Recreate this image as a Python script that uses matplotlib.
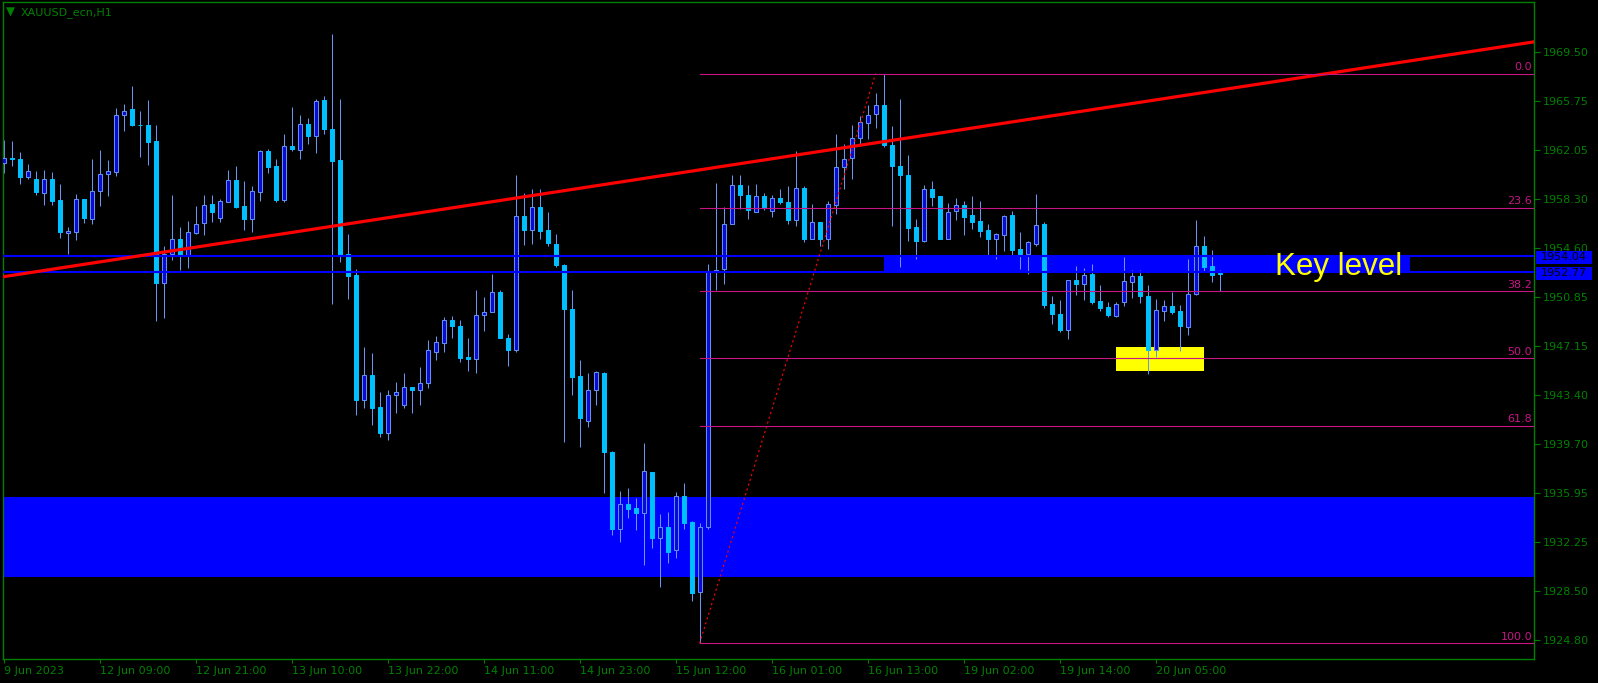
import numpy as np
import matplotlib.pyplot as plt
from matplotlib.patches import Rectangle
import matplotlib.transforms as mtransforms

# --- dati (XAUUSD H1) ---
opens = [1961.11, 1961.46, 1961.42, 1960.02, 1959.85, 1958.80, 1959.85, 1958.25, 1955.76, 1955.84,
         1958.38, 1956.83, 1958.96, 1960.28, 1960.40, 1964.76, 1965.17, 1964.00, 1963.95, 1962.73,
         1951.96, 1954.15, 1955.34, 1954.07, 1955.76, 1956.52, 1958.00, 1956.90, 1958.12, 1959.82,
         1957.79, 1956.81, 1958.88, 1961.97, 1960.83, 1958.25, 1962.35, 1962.10, 1964.08, 1963.14,
         1965.85, 1963.70, 1961.29, 1954.15, 1952.55, 1943.05, 1944.95, 1942.50, 1940.52, 1943.48,
         1942.72, 1944.02, 1943.86, 1944.32, 1946.75, 1947.40, 1949.18, 1948.67, 1946.32, 1946.19,
         1949.56, 1949.76, 1951.24, 1947.74, 1946.85, 1957.06, 1955.97, 1957.74, 1955.97, 1954.96,
         1953.36, 1950.02, 1944.87, 1941.48, 1943.86, 1945.08, 1939.08, 1933.22, 1935.12, 1934.82,
         1934.44, 1937.60, 1932.54, 1933.38, 1931.65, 1935.75, 1933.76, 1928.48, 1933.38, 1952.80,
         1953.06, 1956.48, 1959.44, 1958.68, 1957.39, 1958.61, 1957.44, 1958.46, 1958.15, 1956.73,
         1959.22, 1955.29, 1956.56, 1955.29, 1957.87, 1960.78, 1961.49, 1962.99, 1964.16, 1964.84,
         1965.52, 1962.48, 1960.86, 1960.20, 1956.18, 1955.16, 1959.14, 1958.58, 1955.29, 1957.44,
         1957.92, 1957.11, 1956.65, 1955.97, 1955.34, 1955.64, 1957.11, 1954.58, 1954.15, 1954.91,
         1956.43, 1950.35, 1949.64, 1948.37, 1952.17, 1951.87, 1952.63, 1950.57, 1950.14, 1949.46,
         1950.52, 1952.04, 1952.47, 1950.95, 1946.90, 1949.84, 1950.19, 1949.81, 1948.62, 1951.16,
         1954.75, 1953.23, 1952.70]
highs = [1962.81, 1962.73, 1961.90, 1961.04, 1960.45, 1960.53, 1960.38, 1959.47, 1956.20, 1958.71,
         1958.38, 1961.37, 1962.05, 1961.34, 1965.30, 1965.55, 1966.91, 1965.01, 1965.85, 1963.95,
         1954.75, 1958.63, 1956.22, 1956.65, 1957.79, 1958.63, 1958.63, 1958.38, 1960.53, 1960.83,
         1959.69, 1959.31, 1962.05, 1962.13, 1961.42, 1963.32, 1965.34, 1964.71, 1964.54, 1965.98,
         1966.15, 1970.87, 1965.93, 1955.72, 1953.06, 1947.10, 1946.60, 1943.64, 1943.81, 1944.40,
         1945.08, 1944.02, 1945.54, 1947.61, 1947.91, 1949.38, 1949.43, 1949.13, 1947.74, 1951.46,
         1950.88, 1952.68, 1951.41, 1948.07, 1960.15, 1958.84, 1959.14, 1959.14, 1957.32, 1955.72,
         1953.44, 1951.46, 1946.09, 1945.08, 1945.25, 1945.20, 1939.17, 1936.16, 1936.34, 1935.58,
         1939.76, 1937.60, 1934.36, 1934.52, 1936.08, 1936.72, 1933.85, 1933.68, 1953.44, 1959.60,
         1957.70, 1960.15, 1960.20, 1959.39, 1959.52, 1958.84, 1958.63, 1959.14, 1959.31, 1961.97,
         1959.31, 1958.00, 1956.56, 1958.17, 1963.32, 1962.56, 1963.95, 1964.66, 1965.47, 1966.44,
         1967.88, 1963.87, 1965.98, 1961.67, 1956.81, 1959.44, 1959.69, 1958.58, 1958.08, 1958.40,
         1958.17, 1958.55, 1958.17, 1956.43, 1955.76, 1957.11, 1957.44, 1955.82, 1955.13, 1958.71,
         1956.56, 1950.95, 1950.65, 1952.17, 1953.23, 1953.10, 1953.39, 1951.79, 1950.52, 1950.52,
         1953.90, 1952.93, 1952.93, 1951.79, 1950.78, 1950.65, 1951.28, 1950.27, 1953.77, 1956.73,
         1955.51, 1954.45, 1952.93]
lows = [1960.32, 1960.83, 1959.47, 1959.90, 1958.63, 1957.87, 1957.87, 1955.38, 1954.15, 1955.21,
        1956.52, 1956.43, 1957.79, 1958.55, 1960.10, 1963.49, 1963.87, 1961.52, 1960.91, 1949.08,
        1949.28, 1953.69, 1952.93, 1953.10, 1955.67, 1955.59, 1956.60, 1956.60, 1958.12, 1957.66,
        1955.97, 1955.84, 1958.20, 1960.32, 1958.12, 1958.12, 1962.00, 1961.37, 1962.51, 1961.85,
        1963.32, 1950.35, 1953.56, 1950.73, 1941.91, 1942.42, 1941.15, 1940.26, 1940.01, 1942.04,
        1942.47, 1942.04, 1942.67, 1943.99, 1946.09, 1946.72, 1947.79, 1945.96, 1945.28, 1945.13,
        1948.32, 1949.76, 1947.74, 1945.66, 1946.72, 1954.83, 1954.91, 1955.34, 1954.78, 1953.18,
        1939.88, 1943.43, 1939.50, 1941.02, 1942.67, 1935.98, 1932.79, 1932.28, 1934.11, 1933.17,
        1930.51, 1931.83, 1928.86, 1930.64, 1931.02, 1933.22, 1927.80, 1924.56, 1933.25, 1951.41,
        1951.92, 1956.48, 1957.62, 1956.86, 1957.39, 1957.49, 1956.94, 1957.95, 1956.43, 1956.30,
        1955.08, 1955.29, 1954.78, 1954.53, 1957.19, 1959.09, 1959.85, 1962.56, 1962.89, 1963.78,
        1962.30, 1956.30, 1953.18, 1955.16, 1953.82, 1955.08, 1957.82, 1955.29, 1955.29, 1956.73,
        1955.59, 1956.05, 1955.46, 1954.07, 1953.77, 1954.37, 1954.07, 1953.01, 1952.63, 1954.75,
        1950.06, 1948.83, 1948.24, 1947.69, 1951.03, 1950.65, 1950.40, 1949.81, 1949.38, 1949.38,
        1950.22, 1950.83, 1950.45, 1945.03, 1946.34, 1949.08, 1949.64, 1946.77, 1947.99, 1951.03,
        1952.85, 1952.00, 1951.33]
closes = [1961.49, 1961.39, 1960.02, 1960.45, 1958.88, 1959.90, 1958.20, 1955.84, 1955.95, 1958.38,
          1956.90, 1958.99, 1960.28, 1960.51, 1964.76, 1965.07, 1963.95, 1963.95, 1962.68, 1951.96,
          1954.20, 1955.34, 1954.09, 1955.80, 1956.48, 1957.92, 1957.36, 1958.17, 1959.82, 1957.74,
          1956.81, 1958.93, 1961.97, 1960.78, 1958.25, 1962.35, 1962.15, 1964.08, 1963.14, 1965.77,
          1963.65, 1961.24, 1954.07, 1952.50, 1943.05, 1944.95, 1942.47, 1940.52, 1943.48, 1943.64,
          1944.02, 1943.79, 1944.32, 1946.83, 1947.51, 1949.18, 1948.70, 1946.27, 1946.19, 1949.56,
          1949.79, 1951.24, 1947.74, 1946.85, 1957.06, 1955.97, 1957.74, 1955.89, 1955.01, 1953.36,
          1950.02, 1944.82, 1941.71, 1943.86, 1945.16, 1939.12, 1933.22, 1935.12, 1934.74, 1934.44,
          1937.68, 1932.54, 1933.38, 1931.52, 1935.75, 1933.68, 1928.41, 1933.38, 1952.76, 1952.98,
          1956.48, 1959.44, 1958.68, 1957.49, 1958.61, 1957.74, 1958.46, 1958.12, 1956.73, 1959.22,
          1955.29, 1956.56, 1955.29, 1958.00, 1960.78, 1961.42, 1963.02, 1964.20, 1964.76, 1965.52,
          1962.43, 1960.86, 1960.20, 1956.15, 1955.16, 1959.14, 1958.50, 1955.29, 1957.32, 1957.92,
          1956.98, 1956.60, 1955.92, 1955.29, 1955.67, 1957.03, 1954.45, 1954.15, 1955.04, 1956.40,
          1950.27, 1949.59, 1948.37, 1952.17, 1951.87, 1952.55, 1950.48, 1950.06, 1949.51, 1950.35,
          1952.09, 1952.47, 1950.95, 1946.85, 1949.94, 1950.19, 1949.76, 1948.67, 1951.16, 1954.81,
          1953.18, 1952.60, 1952.65]

x_tick_bars = [0, 12, 24, 36, 48, 60, 72, 84, 96, 108, 120, 132, 144]
x_tick_labels = ["9 Jun 2023", "12 Jun 09:00", "12 Jun 21:00", "13 Jun 10:00", "13 Jun 22:00",
                 "14 Jun 11:00", "14 Jun 23:00", "15 Jun 12:00", "16 Jun 01:00", "16 Jun 13:00",
                 "19 Jun 02:00", "19 Jun 14:00", "20 Jun 05:00"]
y_tick_labels = ["1924.80", "1928.50", "1932.25", "1935.95", "1939.70", "1943.40", "1947.15",
                 "1950.85", "1954.60", "1958.30", "1962.05", "1965.75", "1969.50"]

# oggetti disegnati sul grafico
key_lines = [1954.04, 1952.77]
key_rect_bars = [110, 175.8]
zone_low = [1929.62, 1935.70]
yellow_bars = [139, 150]
yellow_prices = [1945.28, 1947.08]
trend_bars = [0, 150]
trend_prices = [1952.44, 1966.44]
fib_bars = [87, 109]
fib_prices = [1924.56, 1967.88]
fib_ratios = [0.0, 23.6, 38.2, 50.0, 61.8, 100.0]

# --- stile ---
GREEN = '#008000'
BULL_FILL = '#0a0ad2'
BULL_EDGE = '#5f8ff0'
BEAR_FILL = '#00bfff'
WICK = '#6a96ee'
FIB = '#c71585'
BLUE = '#0000ff'

W, H = 1598, 683
fig = plt.figure(figsize=(W / 100, H / 100), dpi=100, facecolor='black')
ax = fig.add_axes([2.5 / W, 24 / H, 1531.8 / W, 656.8 / H])
ax.set_facecolor('black')
xmin, xmax = -0.1375, 191.34
ax.set_xlim(xmin, xmax)
ax.set_ylim(1923.37, 1973.31)

o = np.array(opens)
h = np.array(highs)
l = np.array(lows)
c = np.array(closes)
x = np.arange(len(o))
bull = c >= o

# zone (sullo sfondo)
ax.axhspan(zone_low[0], zone_low[1], color=BLUE, zorder=1, lw=0)
ax.add_patch(Rectangle((key_rect_bars[0], key_lines[1]), key_rect_bars[1] - key_rect_bars[0],
                       key_lines[0] - key_lines[1], facecolor=BLUE, edgecolor='none', zorder=1))
ax.add_patch(Rectangle((yellow_bars[0], yellow_prices[0]), yellow_bars[1] - yellow_bars[0],
                       yellow_prices[1] - yellow_prices[0], facecolor='#ffff00', edgecolor='none', zorder=1))

# candele
ax.vlines(x, l, h, color=WICK, linewidth=0.75, zorder=2)
body_h = np.maximum(np.abs(c - o), 0.02)
body_b = np.minimum(o, c)
ax.bar(x[bull], body_h[bull], bottom=body_b[bull], width=0.5, color=BULL_FILL,
       edgecolor=BULL_EDGE, linewidth=0.75, zorder=3)
ax.bar(x[~bull], body_h[~bull], bottom=body_b[~bull], width=0.5, color=BEAR_FILL,
       edgecolor=BEAR_FILL, linewidth=0.75, zorder=3)

# linee orizzontali del livello chiave
for p in key_lines:
    ax.axhline(p, color=BLUE, linewidth=1.5, zorder=4)

# trendline rossa estesa
slope = (trend_prices[1] - trend_prices[0]) / (trend_bars[1] - trend_bars[0])
ax.plot([xmin, xmax], [trend_prices[0] + slope * (xmin - trend_bars[0]),
                       trend_prices[0] + slope * (xmax - trend_bars[0])],
        color='#ff0000', linewidth=2.3, zorder=4, solid_capstyle='butt')

# Fibonacci
ax.plot(fib_bars, fib_prices, color='#ff0000', linewidth=0.8, linestyle=(0, (2, 2.5)), zorder=4)
rng = fib_prices[1] - fib_prices[0]
for r in fib_ratios:
    p = fib_prices[1] - rng * r / 100
    ax.plot([fib_bars[0], xmax], [p, p], color=FIB, linewidth=0.8, zorder=4)
    ax.text(191.05, p + 0.12, f"{r:.1f}", color=FIB, fontsize=8, ha='right', va='bottom', zorder=5)

ax.text(166.9, 1952.53, "Key level", color='#ffff00', fontsize=22.5,
        family='Liberation Sans', ha='center', va='baseline', zorder=5)

# assi
ax.yaxis.tick_right()
ax.set_yticks(np.linspace(1924.80, 1969.50, len(y_tick_labels)))
ax.set_yticklabels(y_tick_labels)
ax.set_xticks(x_tick_bars)
ax.set_xticklabels(x_tick_labels)
for lbl in ax.get_xticklabels():
    lbl.set_horizontalalignment('left')
ax.tick_params(axis='y', colors=GREEN, labelcolor=GREEN, length=4, width=0.8, pad=2.4, labelsize=8)
ax.tick_params(axis='x', colors=GREEN, labelcolor=GREEN, length=3, width=0.8, pad=2, labelsize=8)
for s in ax.spines.values():
    s.set_color(GREEN)
    s.set_linewidth(1.0)

# etichette prezzo delle linee blu
trans = mtransforms.blended_transform_factory(ax.transAxes, ax.transData)
box_h = 1.03
for p, yc in zip(key_lines, [1953.90, 1952.69]):
    ax.add_patch(Rectangle((1.0011, yc - box_h / 2), 0.0366, box_h, transform=trans,
                           facecolor=BLUE, edgecolor='none', clip_on=False, zorder=6))
    ax.text(1.0011 + 0.0183, yc, f"{p:.2f}", transform=trans, color='black', fontsize=8,
            ha='center', va='center', clip_on=False, zorder=7)

# titolo
fig.text(10.5 / W, 1 - 12.5 / H, "\u25bc", color=GREEN, fontsize=8.5, ha='center', va='center')
fig.text(20.5 / W, 1 - 12.5 / H, "XAUUSD_ecn,H1", color=GREEN, fontsize=8, ha='left', va='center')

fig.savefig("out.png", dpi=100, facecolor='black')
